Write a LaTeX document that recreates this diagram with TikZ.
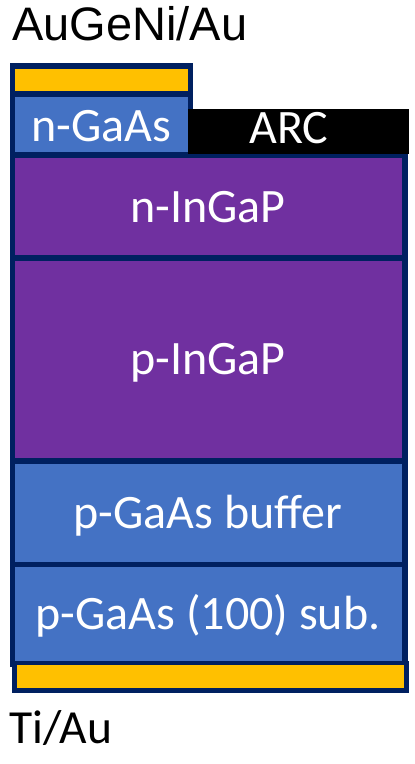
\documentclass[tikz,border=0pt]{standalone}
\usepackage{fontspec}
\setmainfont{Carlito}
\newfontfamily\arialf{Liberation Sans}
\definecolor{navy}{HTML}{002060}
\definecolor{lblue}{HTML}{4472C4}
\definecolor{lpurple}{HTML}{7030A0}
\definecolor{gold}{HTML}{FFC000}
\begin{document}
\begin{tikzpicture}[x=1pt,y=-1pt,
  lbl/.style={text=white,font=\fontsize{48}{48}\selectfont,inner sep=0pt,anchor=base},
  ext/.style={text=black,inner sep=0pt,anchor=base west}]
\useasboundingbox (0,0) rectangle (415,764);
% top contact block
\fill[navy] (10,63) rectangle (193,156);
\fill[gold] (15,69) rectangle (188,91);
\fill[lblue] (15,97) rectangle (188,152);
% main stack
\fill[navy] (10,153) rectangle (408,667);
\fill[lpurple] (15,158) rectangle (402,255);
\fill[lpurple] (15,261) rectangle (402,458);
\fill[lblue] (15,464) rectangle (402,562);
\fill[lblue] (15,567) rectangle (402,661);
% ARC
\fill[black] (188,109) rectangle (409,154);
% bottom contact
\fill[navy] (12,661) rectangle (409,693);
\fill[gold] (17,665) rectangle (404,688);
% labels
\node[lbl] (ngaas) at (101,141) {n-GaAs};
\node[lbl] (arc) at (289,143) {ARC};
\node[lbl] (ningap) at (208,222) {n-InGaP};
\node[lbl] (pingap) at (208,374) {p-InGaP};
\node[lbl] (buf) at (208,528) {p-GaAs buffer};
\node[lbl] (sub) at (208,629) {p-GaAs (100) sub.};
\node[ext,font=\arialf\fontsize{47}{47}\selectfont] (top) at (12,40) {AuGeNi/Au};
\node[ext,font=\fontsize{47.5}{47.5}\selectfont] (bot) at (9,743) {Ti/Au};
\end{tikzpicture}
\end{document}
